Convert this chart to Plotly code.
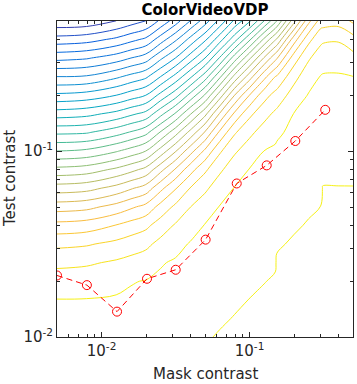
import numpy as np
import plotly.graph_objects as go

# ---- data -------------------------------------------------------------
# measured thresholds (red dashed line)
mask_contrast = [0.005, 0.00796, 0.01272, 0.02028, 0.0317, 0.0505, 0.0819, 0.1306, 0.2038, 0.3246]
test_contrast = [0.02142, 0.01901, 0.01369, 0.02056, 0.02299, 0.03338, 0.0669, 0.0837, 0.1132, 0.1665]

# model prediction grid (contour levels)
grid_mask = [0.005, 0.007925, 0.01256, 0.01581, 0.01991, 0.02506, 0.03155, 0.03972, 0.05, 0.06295,
             0.07925, 0.09977, 0.1256, 0.1493, 0.1528, 0.1991, 0.2506, 0.3048, 0.3119, 0.3972, 0.5]
grid_test = [0.01, 0.01259, 0.01585, 0.01995, 0.02512, 0.03162, 0.03981, 0.05012, 0.0631, 0.07943,
             0.1, 0.1259, 0.1585, 0.1995, 0.2512, 0.3162, 0.3981, 0.5012]
grid_level = [
 [-0.20,-0.24,-0.33,-0.39,-0.46,-0.57,-0.68,-0.81,-0.93,-1.06,-1.17,-1.29,-1.40,-1.49,-1.72,-1.83,-1.90,-1.97,-2.27,-2.26,-2.36],
 [-0.11,-0.14,-0.20,-0.26,-0.32,-0.42,-0.54,-0.66,-0.78,-0.91,-1.03,-1.15,-1.26,-1.35,-1.56,-1.68,-1.76,-1.83,-2.12,-2.11,-2.19],
 [-0.02,-0.03,-0.08,-0.12,-0.17,-0.28,-0.39,-0.51,-0.63,-0.77,-0.89,-1.01,-1.12,-1.21,-1.40,-1.53,-1.62,-1.69,-1.96,-1.95,-2.02],
 [0.51,0.45,0.22,0.04,-0.03,-0.13,-0.24,-0.36,-0.49,-0.62,-0.75,-0.87,-0.98,-1.07,-1.24,-1.38,-1.48,-1.56,-1.80,-1.79,-1.86],
 [1.23,1.13,0.87,0.69,0.51,0.06,-0.09,-0.21,-0.34,-0.48,-0.61,-0.73,-0.85,-0.93,-1.08,-1.23,-1.33,-1.42,-1.64,-1.64,-1.69],
 [2.23,2.10,1.75,1.49,1.23,0.71,0.26,-0.06,-0.19,-0.33,-0.47,-0.59,-0.71,-0.79,-0.92,-1.08,-1.19,-1.28,-1.49,-1.48,-1.52],
 [3.66,3.50,2.96,2.60,2.24,1.52,0.90,0.37,-0.04,-0.19,-0.32,-0.45,-0.57,-0.66,-0.76,-0.92,-1.05,-1.15,-1.33,-1.33,-1.35],
 [5.47,5.29,4.65,4.17,3.71,2.65,1.80,1.02,0.48,-0.04,-0.18,-0.31,-0.43,-0.52,-0.61,-0.77,-0.91,-1.01,-1.17,-1.17,-1.18],
 [7.53,7.34,6.65,6.11,5.58,4.28,3.09,1.97,1.19,0.47,-0.04,-0.17,-0.29,-0.38,-0.45,-0.62,-0.77,-0.87,-1.02,-1.02,-1.02],
 [9.70,9.50,8.80,8.30,7.70,6.30,4.90,3.40,2.18,1.17,0.45,-0.03,-0.15,-0.24,-0.29,-0.47,-0.62,-0.74,-0.86,-0.86,-0.85],
 [12.0,11.8,11.1,10.6,10.0,8.6,7.1,5.4,3.8,2.15,1.14,0.52,-0.01,-0.10,-0.13,-0.32,-0.48,-0.60,-0.70,-0.70,-0.68],
 [14.2,14.1,13.4,12.9,12.3,10.9,9.4,7.7,5.9,3.8,2.12,1.23,0.58,0.17,0.12,-0.17,-0.34,-0.46,-0.54,-0.55,-0.51],
 [16.5,16.3,15.7,15.2,14.7,13.3,11.9,10.1,8.3,5.9,3.8,2.25,1.33,0.82,0.76,-0.02,-0.20,-0.33,-0.39,-0.39,-0.35],
 [18.8,18.6,18.0,17.5,17.0,15.7,14.4,12.7,10.9,8.5,6.0,4.0,2.38,1.67,1.59,0.58,-0.06,-0.19,-0.23,-0.24,-0.18],
 [21.0,20.9,20.2,19.7,19.2,18.0,16.7,15.2,13.5,11.2,8.7,6.5,4.3,3.0,2.9,1.33,0.41,-0.05,-0.07,-0.08,-0.01],
 [23.3,23.1,22.5,22.0,21.5,20.2,19.0,17.5,16.0,13.9,11.5,9.2,6.9,5.3,5.1,2.5,1.12,0.43,0.39,0.35,0.68],
 [25.6,25.4,24.8,24.3,23.8,22.5,21.2,19.7,18.2,16.4,14.4,12.2,9.8,8.1,7.9,4.5,2.3,1.23,1.17,1.11,1.59],
 [27.8,27.7,27.0,26.5,26.0,24.8,23.5,22.0,20.5,18.7,16.8,15.2,13.0,11.3,11.0,7.4,4.3,2.5,2.5,2.4,3.2],
]

tick_vals = [0.01, 0.1]
tick_text = ['10<sup>-2</sup>', '10<sup>-1</sup>']

# ---- styling ---------------------------------------------------------
parula = [(0.2081,0.1663,0.5292),(0.1959,0.2645,0.7279),(0.0117,0.3875,0.8820),(0.0498,0.4586,0.8641),
          (0.0793,0.5200,0.8312),(0.0343,0.5966,0.8199),(0.0228,0.6535,0.7768),(0.0843,0.6928,0.7062),
          (0.2178,0.7250,0.6193),(0.3953,0.7459,0.5244),(0.5709,0.7485,0.4494),(0.7184,0.7411,0.3905),
          (0.8507,0.7299,0.3360),(0.9739,0.7314,0.2666),(0.9880,0.8066,0.1794),(0.9599,0.9218,0.0948),
          (0.9763,0.9831,0.0538)]
ppos = [0,4,8,12,16,20,24,28,32,36,40,44,48,52,56,60,63]
def pcol(p):
    p = min(max(p, 0), 0.97) * 63
    ch = [np.interp(p, ppos, [c[i] for c in parula]) for i in range(3)]
    return 'rgb(%d,%d,%d)' % tuple(round(v * 255) for v in ch)
lev_start, lev_end = -1, 27
cscale = [[(k - lev_start) / (lev_end - lev_start), pcol(0.97 - 0.034 * k)]
          for k in range(lev_start, lev_end + 1)]

fig = go.Figure()
fig.add_trace(go.Contour(x=grid_mask, y=grid_test, z=grid_level, autocontour=False,
    contours=dict(start=lev_start, end=lev_end, size=1, coloring='lines'),
    line=dict(width=1, smoothing=1.0), colorscale=cscale, showscale=False, hoverinfo='skip'))
fig.add_trace(go.Scatter(x=mask_contrast, y=test_contrast, mode='lines+markers',
    line=dict(color='red', width=1, dash='6px,4px'),
    marker=dict(symbol='circle-open', size=9, color='red', line=dict(width=1, color='red'))))

fnt = 'DejaVu Sans'
ink = '#262626'
L, R, T, B, W, H = 57, 4, 21, 47, 357, 384
pw, ph = W - L - R, H - T - B
minor_x = [0.006,0.007,0.008,0.009,0.02,0.03,0.04,0.05,0.06,0.07,0.08,0.09,0.2,0.3,0.4]
minor_y = [0.02,0.03,0.04,0.05,0.06,0.07,0.08,0.09,0.2,0.3,0.4]
ax = dict(showgrid=False, zeroline=False, showline=True, linecolor=ink, linewidth=1,
          mirror='ticks', ticks='inside', ticklen=5, tickcolor=ink,
          tickfont=dict(family=fnt, size=15, color=ink))
fig.update_layout(width=W, height=H, margin=dict(l=L, r=R, t=T, b=B),
    paper_bgcolor='white', plot_bgcolor='white', showlegend=False,
    title=dict(text='<b>ColorVideoVDP</b>', x=0.5, xref='paper', y=1-10/H, yanchor='middle',
               font=dict(family=fnt, size=15, color='black')),
    xaxis=dict(type='log', range=[np.log10(0.005), np.log10(0.5)], tickvals=tick_vals, ticktext=tick_text,
               minor=dict(tickvals=minor_x, ticks='inside', ticklen=3, tickcolor=ink), **ax),
    yaxis=dict(type='log', range=[-2, np.log10(0.5)], tickvals=tick_vals, ticktext=tick_text,
               minor=dict(tickvals=minor_y, ticks='inside', ticklen=3, tickcolor=ink), **ax),
    annotations=[
        dict(text='Mask contrast', x=(205-L)/pw, y=(H-B-374)/ph, xref='paper', yref='paper', showarrow=False,
             xanchor='center', yanchor='middle', font=dict(family=fnt, size=15, color=ink)),
        dict(text='Test contrast', x=(10-L)/pw, y=(H-B-179)/ph, xref='paper', yref='paper', showarrow=False,
             textangle=-90, xanchor='center', yanchor='middle', font=dict(family=fnt, size=15, color=ink)),
    ])
fig.write_html("out.html", config={'displayModeBar': False},
               post_script="document.body.style.margin='0px';")
